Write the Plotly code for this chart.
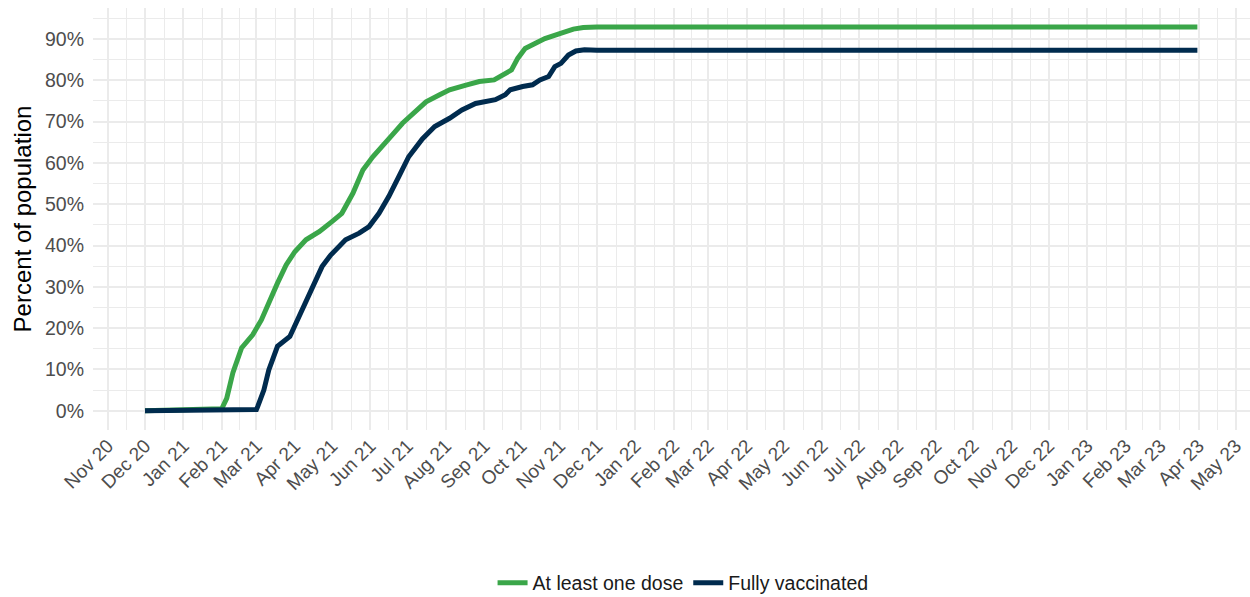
import pandas as pd
import plotly.graph_objects as go

# ---- data ----
dose1_dates = [
    "2020-12-01", "2021-01-18", "2021-02-01", "2021-02-05", "2021-02-10", "2021-02-17",
    "2021-02-26", "2021-03-05", "2021-03-11", "2021-03-18", "2021-03-25", "2021-04-01",
    "2021-04-10", "2021-04-21", "2021-05-01", "2021-05-09", "2021-05-18", "2021-05-26",
    "2021-06-03", "2021-06-11", "2021-06-20", "2021-06-27", "2021-07-08", "2021-07-16",
    "2021-07-27", "2021-08-04", "2021-08-18", "2021-08-28", "2021-09-09", "2021-09-16",
    "2021-09-23", "2021-09-28", "2021-10-04", "2021-10-12", "2021-10-20", "2021-11-01",
    "2021-11-12", "2021-11-20", "2021-12-01", "2022-06-01", "2022-12-01", "2023-03-31",
]
dose1_pct = [
    0.0, 0.3, 0.5, 3.0, 9.2, 15.2,
    18.4, 22.0, 26.4, 30.9, 35.3, 38.5,
    41.4, 43.4, 45.8, 47.8, 52.7, 58.3,
    61.5, 64.0, 67.2, 69.6, 72.4, 74.8,
    76.5, 77.7, 78.9, 79.7, 80.1, 81.3,
    82.5, 85.3, 87.7, 88.9, 90.1, 91.3,
    92.4, 92.8, 92.9, 92.9, 92.9, 92.9,
]

full_dates = [
    "2020-12-01", "2021-02-01", "2021-03-01", "2021-03-02", "2021-03-07", "2021-03-11",
    "2021-03-18", "2021-03-28", "2021-04-02", "2021-04-09", "2021-04-15", "2021-04-23",
    "2021-04-30", "2021-05-12", "2021-05-23", "2021-05-31", "2021-06-08", "2021-06-16",
    "2021-06-24", "2021-07-02", "2021-07-13", "2021-07-23", "2021-08-04", "2021-08-14",
    "2021-08-25", "2021-09-02", "2021-09-10", "2021-09-18", "2021-09-22", "2021-10-02",
    "2021-10-10", "2021-10-16", "2021-10-23", "2021-10-28", "2021-11-02", "2021-11-08",
    "2021-11-14", "2021-11-21", "2021-12-01", "2022-06-01", "2022-12-01", "2023-03-31",
]
full_pct = [
    0.0, 0.1, 0.3, 1.0, 5.0, 9.9,
    15.6, 18.0, 21.3, 25.6, 29.7, 34.9,
    37.7, 41.4, 43.0, 44.6, 47.8, 51.9,
    56.7, 61.5, 65.8, 68.8, 70.8, 72.8,
    74.4, 75.0, 75.3, 76.5, 77.7, 78.5,
    78.9, 80.1, 80.9, 83.3, 84.1, 86.1,
    87.1, 87.4, 87.3, 87.3, 87.3, 87.3,
]

series_names = ["At least one dose", "Fully vaccinated"]
series_colors = ["#3AA649", "#002B4E"]

y_ticks = [0, 10, 20, 30, 40, 50, 60, 70, 80, 90]
y_ticktext = [f"{v}%" for v in y_ticks]

month_ticks = pd.date_range("2020-11-01", "2023-05-01", freq="MS")
month_text = [d.strftime("%b %y") for d in month_ticks]
minor_x = [month_ticks[i] + (month_ticks[i + 1] - month_ticks[i]) / 2
           for i in range(len(month_ticks) - 1)]
minor_x = [month_ticks[0] - pd.Timedelta(days=15.5)] + minor_x + [month_ticks[-1] + pd.Timedelta(days=15.5)]
minor_y = [-5, 5, 15, 25, 35, 45, 55, 65, 75, 85, 95]

FONT = "Liberation Sans, Arial, sans-serif"
GRID = "#EBEBEB"

fig = go.Figure()
for name, dates, vals, col in [
    (series_names[0], dose1_dates, dose1_pct, series_colors[0]),
    (series_names[1], full_dates, full_pct, series_colors[1]),
]:
    fig.add_trace(go.Scatter(
        x=pd.to_datetime(dates), y=vals, mode="lines", name=name,
        line=dict(color=col, width=5),
        hovertemplate="%{x|%b %d %Y}: %{y:.1f}%<extra>" + name + "</extra>",
    ))

fig.update_layout(
    width=1250, height=597,
    margin=dict(l=93, r=0, t=8, b=167, autoexpand=False),
    paper_bgcolor="white", plot_bgcolor="white",
    font=dict(family=FONT, size=19.5, color="#4D4D4D"),
    showlegend=True,
    legend=dict(
        orientation="h", x=0.51, xanchor="center", y=-0.3626, yanchor="middle",
        font=dict(family=FONT, size=19.5, color="#1A1A1A"),
        bgcolor="rgba(0,0,0,0)", itemwidth=30, traceorder="normal",
    ),
    xaxis=dict(
        type="date",
        range=["2020-10-20", "2023-05-12 12:00"],
        tickmode="array", tickvals=month_ticks, ticktext=month_text,
        tickangle=-45, ticks="", showline=False, zeroline=False,
        showgrid=True, gridcolor=GRID, gridwidth=2,
        tickfont=dict(family=FONT, size=19, color="#4D4D4D"),
        minor=dict(tickmode="array", tickvals=minor_x, showgrid=True,
                   gridcolor=GRID, gridwidth=1, ticks=""),
        automargin=False,
    ),
    yaxis=dict(
        range=[-4.65, 97.5],
        tickmode="array", tickvals=y_ticks, ticktext=y_ticktext,
        ticks="", showline=False, zeroline=False,
        showgrid=True, gridcolor=GRID, gridwidth=2,
        tickfont=dict(family=FONT, size=19.5, color="#4D4D4D"),
        ticklabelstandoff=8,
        minor=dict(tickmode="array", tickvals=minor_y, showgrid=True,
                   gridcolor=GRID, gridwidth=1, ticks=""),
        title=dict(text="Percent of population",
                   font=dict(family=FONT, size=24, color="black"), standoff=6),
        automargin=False,
    ),
)

fig.write_html(
    "out.html",
    config={"displayModeBar": False},
    post_script="document.body.style.margin='0';document.body.style.overflow='hidden';",
)
